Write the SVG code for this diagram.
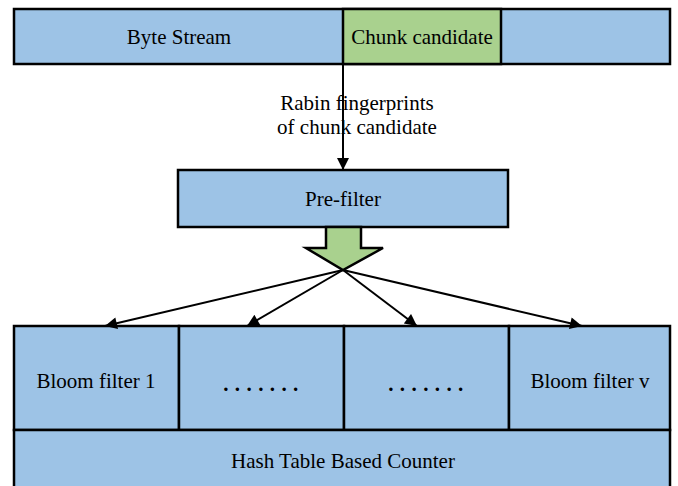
<svg xmlns="http://www.w3.org/2000/svg" width="678" height="486" viewBox="0 0 678 486">
  <style>
    .box { fill: #9dc3e6; stroke: #000; stroke-width: 2.5; }
    .green { fill: #a9d18e; stroke: #000; stroke-width: 2.5; }
    .lbl { font-family: "Liberation Serif", "Times New Roman", serif; font-size: 21px; fill: #000; text-anchor: middle; }
    .dots { letter-spacing: 6.4px; font-weight: bold; }
    .conn { stroke: #000; stroke-width: 2; fill: none; }
  </style>
  <defs>
    <marker id="arrowL" viewBox="0 0 10 10" refX="10" refY="5" markerWidth="14" markerHeight="12" markerUnits="userSpaceOnUse" orient="auto">
      <path d="M0,0 L10,5 L0,10 z" fill="#000"/>
    </marker>
  </defs>

  <!-- byte stream with the candidate chunk -->
  <g id="byte-stream">
    <rect class="box" x="14" y="9" width="656" height="55"/>
    <text class="lbl" x="179" y="44">Byte Stream</text>
  </g>
  <g id="chunk-candidate">
    <rect class="green" x="343" y="9" width="158" height="55"/>
    <text class="lbl" x="422" y="44">Chunk candidate</text>
  </g>

  <!-- pre-filter stage -->
  <g id="pre-filter">
    <rect class="box" x="178" y="170" width="330" height="57"/>
    <text class="lbl" x="343" y="206">Pre-filter</text>
  </g>

  <!-- bloom filter bank -->
  <g id="bloom-filter-1">
    <rect class="box" x="14" y="326" width="165" height="104"/>
    <text class="lbl" x="96" y="388">Bloom filter 1</text>
  </g>
  <g id="bloom-filter-2">
    <rect class="box" x="179" y="326" width="165" height="104"/>
    <text class="lbl dots" x="264" y="391">.......</text>
  </g>
  <g id="bloom-filter-3">
    <rect class="box" x="344" y="326" width="165" height="104"/>
    <text class="lbl dots" x="429" y="391">.......</text>
  </g>
  <g id="bloom-filter-v">
    <rect class="box" x="509" y="326" width="161" height="104"/>
    <text class="lbl" x="590" y="388">Bloom filter v</text>
  </g>

  <!-- counter -->
  <g id="hash-table-counter">
    <rect class="box" x="14" y="430" width="656" height="70"/>
    <text class="lbl" x="343" y="468">Hash Table Based Counter</text>
  </g>

  <g id="connectors">
    <line class="conn" x1="343" y1="64" x2="343" y2="170" marker-end="url(#arrowL)"/>
    <text class="lbl" x="357" y="110">Rabin fingerprints</text>
    <text class="lbl" x="357" y="134">of chunk candidate</text>
    <!-- block arrow out of the pre-filter -->
    <path class="green" d="M326,227 L361,227 L361,248 L383,248 L343,270 L306,248 L326,248 Z"/>
    <line class="conn" x1="343" y1="270" x2="105" y2="326" marker-end="url(#arrowL)"/>
    <line class="conn" x1="343" y1="270" x2="247" y2="326" marker-end="url(#arrowL)"/>
    <line class="conn" x1="343" y1="270" x2="417" y2="326" marker-end="url(#arrowL)"/>
    <line class="conn" x1="343" y1="270" x2="582" y2="326" marker-end="url(#arrowL)"/>
  </g>
</svg>
